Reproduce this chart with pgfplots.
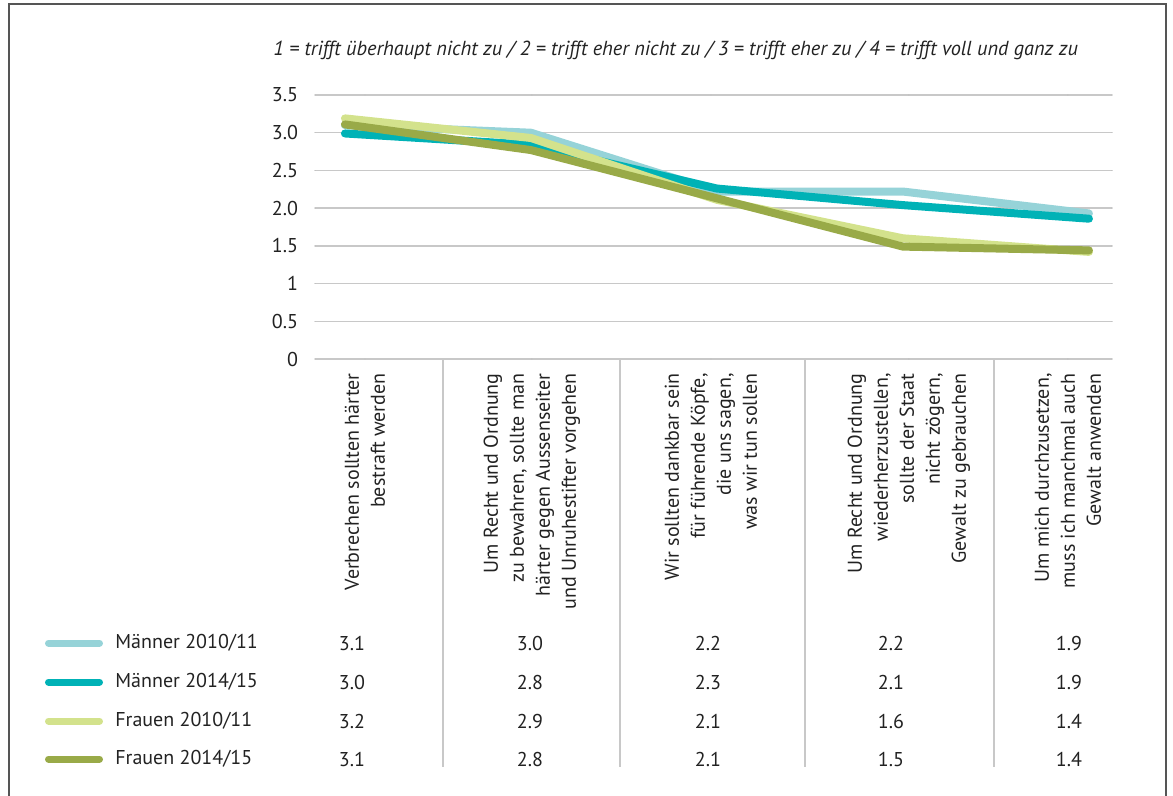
\documentclass[border=0pt]{standalone}
\usepackage{fontspec}
\setmainfont{PT Sans}
\usepackage{pgfplots}
\pgfplotsset{compat=1.18}
\definecolor{mA}{HTML}{96D3D8}
\definecolor{mB}{HTML}{00B2B6}
\definecolor{fA}{HTML}{D3E28C}
\definecolor{fB}{HTML}{99AA48}
\definecolor{gridc}{HTML}{C8C8C8}
\definecolor{framec}{HTML}{555555}
\definecolor{txt}{HTML}{222222}
\begin{document}
\begin{tikzpicture}
\begin{scope}[x=0.5pt,y=-0.5pt]
\useasboundingbox (0,0) rectangle (1173,796);
\draw[framec, line width=1pt] (8.5,830) -- (8.5,4.5) -- (1165.5,4.5) -- (1165.5,830);
\node[anchor=west, inner sep=0pt, text=txt, font=\fontsize{10.15}{12}\selectfont\itshape] at (273,50) {1 = trifft überhaupt nicht zu / 2 = trifft eher nicht zu / 3 = trifft eher zu / 4 = trifft voll und ganz zu};
\foreach \x in {443,620,805,994} \draw[gridc, line width=0.75pt] (\x,359) -- (\x,767);
\end{scope}
\begin{axis}[at={(157.5pt,-179.5pt)}, anchor=south west, scale only axis,
  width=398.5pt, height=132pt,
  xmin=-0.161, xmax=4.124, ymin=0, ymax=3.5,
  ytick={0,0.5,1,1.5,2,2.5,3,3.5},
  yticklabels={0,0.5,1,1.5,2.0,2.5,3.0,3.5},
  xtick={0.108,1.005,1.968,3.032,3.887},
  xticklabels={{Verbrechen sollten härter\\bestraft werden},
    {Um Recht und Ordnung\\zu bewahren, sollte man\\härter gegen Aussenseiter\\und Unruhestifter vorgehen},
    {Wir sollten dankbar sein\\für führende Köpfe,\\die uns sagen,\\was wir tun sollen},
    {Um Recht und Ordnung\\wiederherzustellen,\\sollte der Staat\\nicht zögern,\\Gewalt zu gebrauchen},
    {Um mich durchzusetzen,\\muss ich manchmal auch\\Gewalt anwenden}},
  major tick length=0pt,
  axis line style={draw=none},
  ymajorgrids, major grid style={gridc, line width=0.75pt},
  yticklabel style={font=\fontsize{10}{12}\selectfont, text=txt, xshift=-5pt},
  xticklabel style={font=\fontsize{10}{13}\selectfont, text=txt, rotate=90, anchor=east, align=right},
  xticklabel shift=3.7pt,
  clip=false,
  line cap=round, line join=round,
]
\addplot[mA, line width=4pt] coordinates {(0,3.10) (1,3.00) (2,2.22) (3,2.22) (4,1.93)};
\addplot[mB, line width=4pt] coordinates {(0,2.99) (1,2.84) (2,2.26) (3,2.04) (4,1.86)};
\addplot[fA, line width=4pt] coordinates {(0,3.19) (1,2.93) (2,2.11) (3,1.60) (4,1.42)};
\addplot[fB, line width=4pt] coordinates {(0,3.11) (1,2.77) (2,2.13) (3,1.49) (4,1.44)};
\end{axis}
\begin{scope}[x=0.5pt,y=-0.5pt, every node/.style={font=\fontsize{10}{12}\selectfont, text=txt}]
\draw[mA, line width=3.5pt, line cap=round] (48.5,643) -- (99.5,643);
\draw[mB, line width=3.5pt, line cap=round] (48.5,682) -- (99.5,682);
\draw[fA, line width=3.5pt, line cap=round] (48.5,721) -- (99.5,721);
\draw[fB, line width=3.5pt, line cap=round] (48.5,759) -- (99.5,759);
\node[anchor=west, inner sep=0pt] at (115,643) {Männer 2010/11};
\node[anchor=west, inner sep=0pt] at (115,682) {Männer 2014/15};
\node[anchor=west, inner sep=0pt] at (115,721) {Frauen 2010/11};
\node[anchor=west, inner sep=0pt] at (115,759) {Frauen 2014/15};
\foreach \x/\a/\b/\c/\d in {352/3.1/3.0/3.2/3.1, 530/3.0/2.8/2.9/2.8, 708/2.2/2.3/2.1/2.1, 891/2.2/2.1/1.6/1.5, 1069/1.9/1.9/1.4/1.4}{
  \node at (\x,643) {\a};
  \node at (\x,682) {\b};
  \node at (\x,721) {\c};
  \node at (\x,759) {\d};
}
\end{scope}
\end{tikzpicture}
\end{document}
